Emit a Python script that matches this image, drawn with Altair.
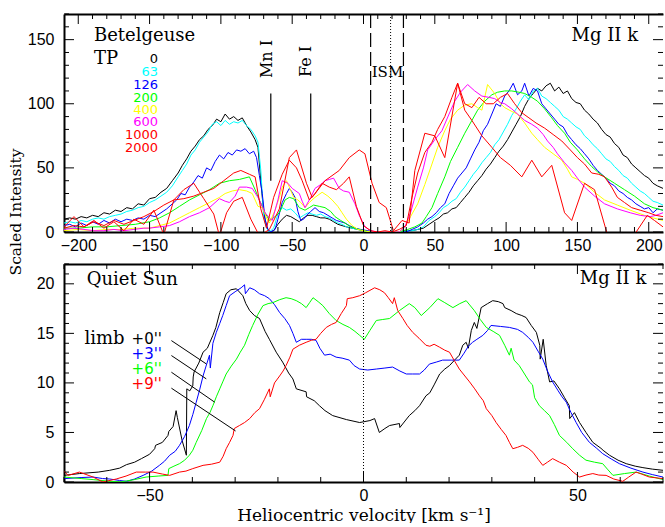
import altair as alt
import pandas as pd

# ---------------- Betelgeuse, Mg II k (top panel): (velocity, intensity) ----------------
bg_tp0 = [(-210,10),(-206,11),(-202,10),(-198,12),(-194,11),(-190,13),(-186,12),(-182,15),(-178,14),(-174,17),(-170,16),(-166,19),(-162,18),(-158,22),(-154,21),(-150,26),(-146,27),(-142,31),(-138,34),(-134,40),(-130,46),(-127,52),(-124,57),(-121,63),(-118,67),(-115,72),(-112,75),(-109,80),(-106,83),(-103,88),(-100,86),(-97,92),(-94,88),(-91,90),(-88,87),(-85,89),(-82,83),(-79,78),(-76,72),(-74,66),(-72,40),(-70,15),(-68,4),(-66,0),(-63,1),(-60,6),(-57,10),(-54,13),(-51,12),(-48,10),(-45,8),(-42,11),(-39,13),(-36,13),(-33,12),(-30,11),(-27,11),(-24,10),(-21,8),(-18,6),(-15,5),(-12,4),(-8,3),(-4,2),(0,1),(5,0),(10,0),(15,0),(20,0),(25,0),(30,1),(34,1),(38,2),(42,3),(46,6),(50,9),(53,11),(56,14),(59,15),(62,18),(65,19),(68,23),(71,27),(74,31),(77,36),(80,40),(83,44),(86,49),(89,53),(92,58),(95,63),(98,67),(101,72),(104,78),(107,84),(110,90),(113,98),(116,104),(119,108),(122,112),(125,110),(128,114),(131,116),(134,110),(137,113),(140,108),(143,110),(146,104),(149,101),(152,100),(155,95),(158,92),(161,88),(164,85),(167,80),(170,76),(173,74),(176,69),(179,66),(182,60),(185,58),(188,53),(191,50),(194,47),(197,44),(200,42),(203,38),(206,36),(210,34)]
bg_tp63 = [(-210,7),(-206,8),(-202,7),(-198,9),(-194,8),(-190,10),(-186,11),(-182,10),(-178,12),(-174,13),(-170,14),(-166,16),(-162,17),(-158,19),(-154,20),(-150,23),(-146,25),(-142,28),(-138,31),(-134,36),(-130,43),(-127,48),(-124,53),(-121,60),(-118,64),(-115,70),(-112,74),(-109,78),(-106,84),(-103,86),(-100,83),(-97,87),(-94,84),(-91,86),(-88,85),(-85,87),(-82,83),(-79,80),(-76,75),(-74,70),(-72,48),(-70,12),(-68,3),(-66,0),(-63,3),(-60,14),(-57,19),(-54,17),(-51,18),(-48,15),(-45,11),(-42,13),(-39,15),(-36,14),(-33,13),(-30,14),(-27,12),(-24,11),(-21,9),(-18,7),(-15,6),(-12,4),(-8,3),(-4,2),(0,1),(5,0),(15,0),(25,0),(30,1),(34,1),(38,2),(42,4),(46,9),(50,12),(53,15),(56,19),(59,21),(62,24),(65,26),(68,31),(71,35),(74,40),(77,45),(80,49),(83,54),(86,58),(89,62),(92,68),(95,72),(98,78),(101,84),(104,91),(107,96),(110,102),(113,107),(116,103),(119,110),(122,112),(125,106),(128,104),(131,101),(134,98),(137,95),(140,90),(143,88),(146,85),(149,82),(152,80),(155,75),(158,72),(161,68),(164,65),(167,61),(170,57),(173,55),(176,51),(179,48),(182,44),(185,42),(188,38),(191,35),(194,32),(197,30),(200,27),(203,24),(206,23),(210,21)]
bg_tp126 = [(-210,5),(-206,6),(-202,4),(-198,7),(-194,5),(-190,8),(-186,6),(-182,9),(-178,7),(-174,10),(-170,8),(-166,10),(-162,9),(-158,11),(-154,10),(-150,13),(-146,12),(-142,15),(-138,18),(-134,22),(-131,25),(-128,30),(-125,29),(-122,35),(-119,39),(-116,44),(-113,42),(-110,50),(-107,48),(-104,55),(-101,60),(-98,57),(-95,62),(-92,60),(-89,64),(-86,63),(-83,65),(-80,61),(-77,63),(-75,58),(-73,44),(-71,30),(-69,10),(-67,2),(-65,0),(-62,2),(-60,10),(-57,23),(-54,30),(-52,34),(-50,31),(-48,27),(-46,16),(-44,9),(-42,10),(-40,13),(-37,16),(-34,19),(-31,16),(-28,15),(-25,13),(-22,11),(-19,9),(-16,8),(-13,7),(-10,5),(-6,3),(-2,2),(3,1),(8,0),(20,0),(30,0),(34,2),(38,4),(42,7),(45,10),(48,12),(51,15),(54,19),(57,22),(60,30),(63,36),(66,42),(69,46),(72,50),(75,57),(78,64),(81,70),(84,79),(87,84),(90,92),(93,100),(96,98),(99,106),(102,110),(105,116),(108,107),(111,110),(113,116),(116,106),(119,112),(122,110),(125,100),(128,96),(131,92),(134,88),(137,84),(140,82),(143,76),(146,72),(149,68),(152,65),(155,61),(158,57),(161,52),(164,48),(167,45),(170,42),(173,38),(176,36),(179,32),(182,30),(185,27),(188,25),(191,22),(194,20),(197,18),(200,19),(203,15),(206,18),(210,17)]
bg_tp200 = [(-210,3),(-200,3),(-190,4),(-180,4),(-170,5),(-160,6),(-150,8),(-143,11),(-136,15),(-129,20),(-122,25),(-115,29),(-108,33),(-101,38),(-94,40),(-87,41),(-80,43),(-76,33),(-73,25),(-69,15),(-66,9),(-62,12),(-59,15),(-55,25),(-52,27),(-49,26),(-45,19),(-41,17),(-38,19),(-35,21),(-31,20),(-27,19),(-23,16),(-20,12),(-16,9),(-13,7),(-9,4),(-6,3),(0,1),(5,0),(15,0),(25,0),(31,2),(36,4),(41,7),(44,12),(48,19),(52,30),(57,43),(61,55),(66,66),(71,77),(76,87),(80,95),(85,102),(90,107),(94,109),(99,110),(104,110),(109,109),(113,108),(118,105),(122,102),(127,96),(132,89),(136,83),(141,77),(145,70),(150,64),(155,57),(160,51),(164,47),(169,43),(176,38),(183,33),(190,28),(197,22),(203,19),(210,17)]
bg_tp400 = [(-210,1),(-200,2),(-190,1),(-180,2),(-170,2),(-160,3),(-150,3),(-143,5),(-136,7),(-129,11),(-122,15),(-115,19),(-108,23),(-101,27),(-97,30),(-92,32),(-87,33),(-82,32),(-78,30),(-74,20),(-71,19),(-68,11),(-66,7),(-62,17),(-59,27),(-57,35),(-54,40),(-52,35),(-49,27),(-46,25),(-44,23),(-41,19),(-38,23),(-34,27),(-29,31),(-25,28),(-22,25),(-18,20),(-15,15),(-12,10),(-8,5),(-4,2),(0,1),(5,0),(25,0),(29,4),(33,12),(38,22),(43,37),(48,53),(52,66),(57,79),(61,88),(66,95),(71,99),(76,100),(80,97),(83,95),(87,115),(92,108),(96,100),(99,97),(104,94),(108,92),(113,85),(118,77),(122,72),(127,66),(133,61),(139,56),(143,49),(146,43),(150,41),(155,38),(162,31),(169,25),(178,21),(187,17),(197,13),(203,11),(210,9)]
bg_tp600 = [(-210,2),(-203,3),(-196,2),(-189,1),(-182,1),(-175,2),(-168,1),(-161,2),(-154,3),(-150,3),(-143,4),(-136,5),(-129,8),(-122,12),(-115,15),(-108,19),(-101,26),(-97,24),(-94,23),(-90,28),(-87,35),(-82,35),(-78,34),(-74,27),(-71,20),(-69,15),(-66,11),(-64,9),(-60,25),(-57,40),(-53,38),(-50,34),(-45,30),(-43,24),(-41,19),(-37,27),(-34,34),(-30,37),(-27,40),(-24,41),(-21,42),(-17,34),(-14,32),(-10,31),(-6,22),(-3,13),(1,4),(5,1),(10,0),(25,0),(29,4),(33,15),(38,35),(42,50),(45,64),(50,72),(55,79),(60,92),(64,102),(68,109),(73,115),(78,110),(83,106),(88,105),(92,104),(96,101),(99,100),(104,96),(108,92),(113,87),(118,84),(122,81),(126,76),(129,71),(133,66),(136,61),(141,54),(146,48),(150,42),(155,35),(162,28),(169,22),(178,18),(187,15),(194,13),(201,12),(205,13),(210,15)]
bg_tp1000 = [(-210,3),(-203,5),(-196,4),(-189,8),(-182,5),(-175,9),(-168,6),(-161,9),(-154,12),(-147,16),(-140,21),(-133,25),(-126,26),(-119,28),(-112,31),(-105,34),(-98,40),(-91,46),(-86,48),(-80,45),(-76,43),(-72,18),(-68,3),(-63,27),(-57,45),(-52,56),(-47,50),(-43,40),(-38,25),(-34,30),(-29,38),(-24,35),(-19,33),(-14,38),(-10,43),(-5,20),(0,5),(5,1),(10,0),(15,1),(20,0),(25,2),(30,5),(34,27),(38,46),(43,62),(48,70),(52,80),(57,90),(62,105),(66,116),(71,100),(76,97),(81,105),(86,100),(91,100),(96,105),(101,108),(106,100),(111,93),(116,89),(121,85),(127,81),(133,76),(139,71),(145,64),(150,58),(155,53),(160,46),(165,45),(169,43),(174,35),(178,27),(183,23),(188,19),(194,17),(200,15),(205,13),(210,12)]
bg_tp2000 = [(-210,4),(-203,12),(-196,4),(-189,9),(-182,3),(-175,8),(-168,1),(-161,10),(-154,6),(-147,17),(-140,-2),(-133,25),(-126,33),(-119,38),(-112,26),(-105,14),(-101,-3),(-96,15),(-91,24),(-85,27),(-79,10),(-73,-3),(-66,2),(-59,18),(-52,58),(-47,64),(-40,38),(-36,27),(-27,40),(-17,48),(-10,58),(-3,64),(1,61),(6,38),(11,23),(16,19),(21,1),(27,9),(32,7),(36,48),(43,77),(50,75),(57,58),(66,116),(71,95),(76,87),(83,75),(90,66),(96,58),(103,52),(111,43),(118,56),(125,43),(132,52),(141,15),(146,9),(155,38),(162,33),(171,-2),(180,-10),(190,-2),(199,13),(204,9),(210,4)]

bg_series = [
    (bg_tp0, "#000000"), (bg_tp63, "#00FFFF"), (bg_tp126, "#0000FF"), (bg_tp200, "#00FF00"),
    (bg_tp400, "#FFFF00"), (bg_tp600, "#FF00FF"), (bg_tp1000, "#FF0000"), (bg_tp2000, "#FF0000"),
]
tp_labels = ["0", "63", "126", "200", "400", "600", "1000", "2000"]
tp_colors = ["#000000", "#00FFFF", "#0000FF", "#00FF00", "#FFFF00", "#FF00FF", "#FF0000", "#FF0000"]
tp_label_y = [134.9, 124.9, 114.5, 104.7, 95.1, 85.4, 75.8, 65.7]

# ---------------- Quiet Sun, Mg II k (bottom panel) ----------------
qs_0 = [(-70,0.67),(-66.4,0.85),(-62,1.0),(-59.3,1.18),(-57,1.4),(-55.4,1.75),(-53.5,2.0),(-51.9,2.36),(-50,2.8),(-48.8,3.36),(-48.6,3.7),(-47,4.0),(-45.7,4.7),(-45.5,5.1),(-44.5,5.6),(-43.8,7.2),(-43.5,6.5),(-42.4,4.2),(-41.4,2.7),(-41.3,9.4),(-40.6,9.2),(-39.9,9.7),(-39.8,10.6),(-39.6,11.1),(-38.5,12.0),(-37.5,13.1),(-36.5,13.5),(-35.2,14.8),(-34.5,15.6),(-33.6,17.1),(-32.8,18.1),(-32.1,19.0),(-31,19.4),(-29.7,19.5),(-28.2,18.8),(-27.5,18.0),(-26.6,17.3),(-25.5,16.8),(-24.3,16.5),(-23,15.2),(-22,14.4),(-20.4,13.1),(-18.9,12.1),(-17.5,11.0),(-16.5,10.4),(-15.7,9.4),(-13.4,9.1),(-13.3,8.6),(-11.5,8.2),(-10.3,7.7),(-9,7.2),(-7.2,6.7),(-4,6.3),(-0.9,6.0),(1.5,6.2),(2.6,6.4),(3.7,5.0),(5,5.4),(6.1,5.7),(8.4,5.9),(8.5,5.5),(10.7,6.7),(12,7.2),(13.1,7.7),(14.6,8.7),(15.5,9.0),(16.5,9.8),(17.8,10.9),(19,11.4),(20.1,11.75),(21.5,12.4),(22.4,12.8),(23.2,13.8),(24.0,14.1),(24.5,13.5),(25.2,15.3),(25.9,16.1),(26.5,15.5),(27.5,17.6),(29,18.0),(30.2,18.3),(31.5,18.2),(32.6,18.0),(33,17.6),(34.5,17.3),(35.7,17.0),(37,16.8),(38.0,16.6),(39.2,15.8),(40.4,15.1),(41.2,13.8),(41.3,12.4),(42,14.4),(42.7,11.75),(43.5,10.1),(44.5,10.2),(45.8,9.4),(47,8.5),(48.1,7.7),(48.2,6.4),(49.3,7.0),(50.5,6.0),(52,5.0),(53.6,4.0),(55.5,3.4),(56,3.2),(57.5,2.7),(59.5,2.2),(61.4,1.85),(63.5,1.6),(65.3,1.45),(67.5,1.3),(70,1.18)]
qs_3 = [(-70,0.34),(-66,0.45),(-63.2,0.5),(-61,0.35),(-59.3,0.3),(-57,0.15),(-55.4,0.07),(-53.5,0.3),(-51.5,0.67),(-49.5,1.1),(-47.7,1.68),(-46.5,2.1),(-45.3,2.7),(-44,3.1),(-43,3.7),(-41.8,4.6),(-40.7,5.7),(-39.9,6.8),(-39.1,8.05),(-38.3,9.3),(-37.5,10.7),(-36.8,11.7),(-36,12.8),(-35.8,11.5),(-35.2,14.0),(-34.4,15.1),(-33.6,16.0),(-32.9,16.8),(-32.1,17.8),(-31.3,18.8),(-30,19.2),(-28.6,19.6),(-27.8,19.9),(-27.6,19.0),(-26.6,19.6),(-25.5,19.4),(-24.3,19.0),(-23.1,18.8),(-22,18.5),(-20.8,17.9),(-19.6,17.1),(-18.4,16.5),(-17.3,15.8),(-16.5,15.0),(-15.7,14.1),(-14.5,14.4),(-13.4,14.4),(-12.2,14.4),(-11.1,14.3),(-10.2,13.5),(-9.1,12.8),(-7.8,12.9),(-6.4,12.6),(-5,12.5),(-3.3,12.3),(-2.2,11.75),(-0.9,11.4),(1,11.3),(3.0,11.4),(5,11.5),(6.8,11.6),(8.5,11.2),(10.0,10.9),(11.5,10.9),(13.1,10.9),(14.2,11.3),(15.4,11.9),(17,12.1),(18.5,12.3),(20.5,12.3),(22.4,12.3),(23.5,13.0),(24.5,13.7),(25.5,14.1),(26.5,14.4),(27.9,14.8),(29,15.3),(29.8,15.8),(32,15.7),(34.1,15.6),(36,15.4),(37.2,15.1),(38.5,14.6),(39.6,14.1),(40.8,13.2),(41.9,12.4),(43,11.2),(44.2,10.1),(45.5,9.2),(46.4,8.6),(47.4,8.05),(48.5,7.0),(49.7,6.0),(51,5.0),(52.8,4.0),(54.5,3.4),(55.9,2.86),(58,2.3),(59.8,1.85),(62.5,1.4),(65.3,1.0),(67.5,0.75),(70,0.5)]
qs_6 = [(-70,0.5),(-66,0.35),(-63.2,0.24),(-60,0.1),(-56.9,0.0),(-54,0.2),(-50.8,0.5),(-48,0.6),(-45.7,0.67),(-45.5,1.35),(-44.3,1.6),(-43,1.85),(-41.8,2.2),(-40.7,2.7),(-39.9,3.2),(-39.1,4.0),(-37.8,5.2),(-36.7,6.4),(-35.9,7.0),(-35.2,7.7),(-34.4,8.6),(-33.6,9.4),(-32.9,10.1),(-32.1,10.9),(-30.9,11.7),(-29.7,12.4),(-28.8,13.1),(-27.8,13.8),(-26.8,14.9),(-25.9,15.8),(-24.7,16.9),(-23.5,17.8),(-22.3,18.0),(-21.2,18.1),(-19.6,18.4),(-18.1,18.6),(-16.9,18.5),(-15.7,18.3),(-14.5,18.0),(-13.4,17.6),(-12.6,18.1),(-11.8,18.6),(-10.6,18.2),(-9.5,17.8),(-8,17.0),(-6.4,16.3),(-4.8,15.9),(-3.3,15.6),(-2,15.2),(-0.9,14.8),(0.2,14.4),(1.5,15.3),(3.0,16.3),(4.5,16.4),(6.1,16.5),(8.4,17.3),(10.7,18.0),(12,17.6),(13.5,16.8),(15.5,17.6),(17.4,18.5),(19,18.1),(20.9,17.6),(22.5,18.0),(24.0,18.3),(25.9,17.3),(27.3,16.4),(28.7,15.6),(30.3,15.2),(31.8,14.8),(33,13.8),(34.1,12.8),(34.5,13.5),(35.2,12.3),(36.4,11.75),(37.5,11.0),(38.8,10.1),(39.5,9.8),(40,8.5),(41.1,7.7),(42.3,7.2),(43.5,6.7),(44.6,5.8),(45.8,4.7),(47.5,4.0),(48.9,3.36),(50.5,2.7),(52.0,2.2),(54,2.0),(55.9,1.85),(57,1.3),(58.3,0.67),(61,0.85),(63.7,1.0),(66.8,0.6),(70,0.24)]
qs_9 = [(-70,1.08),(-69.0,0.67),(-66.4,1.0),(-63.2,0.5),(-60.9,0.0),(-57.8,0.3),(-55.5,0.6),(-53.1,1.0),(-51,1.0),(-49.2,1.0),(-47,0.8),(-45.3,0.67),(-43,1.0),(-41.5,1.1),(-39.9,1.35),(-37.5,1.68),(-35.5,1.8),(-33.6,2.0),(-32.8,2.6),(-32.1,3.36),(-31.3,4.0),(-30.5,4.7),(-30.2,5.4),(-29.0,5.7),(-27.8,6.0),(-26.6,6.4),(-25.4,7.0),(-24.3,7.4),(-23.2,8.3),(-22,9.4),(-21.8,8.6),(-20.8,10.0),(-19.6,10.7),(-18.8,11.2),(-18.1,11.75),(-17.2,12.6),(-16.5,13.4),(-15,13.8),(-13.4,14.1),(-12.2,14.3),(-11.1,14.4),(-10,15.0),(-8.7,15.6),(-7.5,15.9),(-6.4,16.1),(-5.2,17.0),(-4.0,17.8),(-3.8,18.5),(-2.5,18.6),(-0.9,18.8),(0.5,19.1),(2.6,19.6),(3.8,19.4),(4.9,19.1),(5.8,18.6),(6.8,18.0),(7.2,18.6),(8,17.3),(9.2,16.5),(10.2,15.8),(11.5,15.1),(13,14.5),(14.6,13.8),(15.5,13.7),(16.5,13.9),(17.8,13.6),(19,13.3),(20.1,13.1),(21.3,12.2),(22.4,11.4),(23.5,10.8),(24.8,10.1),(26,9.4),(27.1,8.7),(28,8.2),(28.7,7.4),(30,6.7),(31.0,6.0),(32.2,5.3),(33.3,4.7),(34.1,4.0),(34.9,3.36),(36,3.5),(37.2,3.7),(38.5,3.4),(39.6,3.0),(40.8,2.3),(41.9,1.68),(43,2.0),(44.2,2.36),(45.8,2.0),(47.4,1.68),(49,1.0),(50.5,0.5),(52,0.7),(53.6,0.85),(55,0.7),(56.7,0.67),(58.5,0.3),(60.6,0.07),(62,0.5),(63.7,1.0),(65,0.8),(66.8,0.5),(70,0.34)]

qs_series = [(qs_0, "#000000"), (qs_3, "#0000FF"), (qs_6, "#00FF00"), (qs_9, "#FF0000")]
limb_labels = ["+0''", "+3''", "+6''", "+9''"]
limb_colors = ["#000000", "#0000FF", "#00FF00", "#FF0000"]
limb_label_y = [14.47, 12.96, 11.45, 9.94]
# pointer segments from labels to curves: (v1, I1, v2, I2)
pointer_segs = [(-44.9, 14.27, -36.75, 11.92), (-44.9, 12.76, -36.75, 10.41),
                (-44.9, 11.08, -34.8, 8.06), (-44.9, 9.47, -29.9, 5.15)]

# annotation line positions
line_ids = [("Mn I", -65.0, -67.8, 134.9), ("Fe I", -37.0, -40.6, 133.0)]   # label, line v, text v, text I
line_span = (40, 108)
ism_dashed = [5.0, 28.0]
ism_dotted = [19.0]
qs_dotted = [0.0]

# axis ranges and ticks
bg_xdom, bg_ydom = [-210, 210], [0, 170]
qs_xdom, qs_ydom = [-70, 70], [0, 22]
bg_xmajor = [-200, -150, -100, -50, 0, 50, 100, 150, 200]
bg_xminor = [t for t in range(-200, 201, 10) if t % 50 != 0]
bg_ymajor = [0, 50, 100, 150]
bg_yminor = [t for t in range(0, 171, 10) if t % 50 != 0]
qs_xmajor = [-50, 0, 50]
qs_xminor = [t for t in range(-70, 71, 10) if t % 50 != 0]
qs_ymajor = [0, 5, 10, 15, 20]
qs_yminor = [t for t in range(0, 23) if t % 5 != 0]

W, H = 599, 218
SERIF = "DejaVu Serif"
SANS = "DejaVu Sans"
TICKFONT = "Liberation Sans"
MAJOR, MINOR = 10, 5


def df_of(pairs):
    return pd.DataFrame({"v": [p[0] for p in pairs], "I": [p[1] for p in pairs],
                         "i": list(range(len(pairs)))})


def frame_layers(xs, ys, xdom, ydom, xmajor, ymajor, xtitle):
    """Invisible layers carrying the labelled axes and the frame lines."""
    corners = pd.DataFrame({"v": xdom, "I": ydom})
    ax1 = alt.Axis(orient="bottom", values=xmajor, ticks=False, tickSize=0, domain=True,
                   domainWidth=2, domainColor="black", labelPadding=5, labelFlush=False,
                   labelOverlap=False, title=xtitle, titlePadding=4, grid=False, format="d")
    ay1 = alt.Axis(orient="left", values=ymajor, ticks=False, tickSize=0, domain=True,
                   domainWidth=2, domainColor="black", labelPadding=10, labelFlush=False,
                   labelOverlap=False, title=None, grid=False, format="d")
    ax2 = alt.Axis(orient="bottom", offset=-H, values=xmajor, labels=False, ticks=False, tickSize=0,
                   domain=True, domainWidth=2, domainColor="black", title=None, grid=False)
    out = [
        alt.Chart(corners).mark_point(opacity=0, size=1).encode(
            x=alt.X("v:Q", scale=xs, axis=ax1), y=alt.Y("I:Q", scale=ys, axis=ay1)),
        alt.Chart(corners).mark_point(opacity=0, size=1).encode(
            x=alt.X("v:Q", scale=xs, axis=ax2), y=alt.Y("I:Q", scale=ys, axis=None)),
    ]
    return out


def tick_layers(xs, ys, xmajor, xminor, ymajor, yminor):
    """Inward ticks on all four edges, positioned by the scales."""
    out = []
    for vals, size in ((xmajor, MAJOR), (xminor, MINOR)):
        d = pd.DataFrame({"t": vals})
        out.append(alt.Chart(d).mark_rule(color="black", strokeWidth=1).encode(
            x=alt.X("t:Q", scale=xs, axis=None), y=alt.value(H), y2=alt.value(H - size)))
        out.append(alt.Chart(d).mark_rule(color="black", strokeWidth=1).encode(
            x=alt.X("t:Q", scale=xs, axis=None), y=alt.value(0), y2=alt.value(size)))
    for vals, size in ((ymajor, MAJOR), (yminor, MINOR)):
        d = pd.DataFrame({"t": vals})
        out.append(alt.Chart(d).mark_rule(color="black", strokeWidth=1).encode(
            y=alt.Y("t:Q", scale=ys, axis=None), x=alt.value(0), x2=alt.value(size)))
        out.append(alt.Chart(d).mark_rule(color="black", strokeWidth=1).encode(
            y=alt.Y("t:Q", scale=ys, axis=None), x=alt.value(W), x2=alt.value(W - size)))
    return out


def panel(series, xdom, ydom, xmajor, xminor, ymajor, yminor, xtitle, extra):
    xs = alt.Scale(domain=xdom, nice=False, zero=False)
    ys = alt.Scale(domain=ydom, nice=False, zero=False)
    layers = frame_layers(xs, ys, xdom, ydom, xmajor, ymajor, xtitle)
    for pairs, color in series:
        layers.append(
            alt.Chart(df_of(pairs)).mark_line(color=color, strokeWidth=1, clip=True).encode(
                x=alt.X("v:Q", scale=xs, axis=None),
                y=alt.Y("I:Q", scale=ys, axis=None),
                order="i:Q",
            )
        )
    layers += extra(xs, ys)
    layers += tick_layers(xs, ys, xmajor, xminor, ymajor, yminor)
    return alt.layer(*layers).properties(width=W, height=H).resolve_axis(x="independent", y="independent")


def text_layer(df, xs, ys, font, size, align="left", angle=0, colorcol=False):
    enc = dict(x=alt.X("v:Q", scale=xs, axis=None), y=alt.Y("I:Q", scale=ys, axis=None), text="t:N")
    if colorcol:
        enc["color"] = alt.Color("c:N", scale=None, legend=None)
    kw = dict(font=font, fontSize=size, align=align, baseline="middle")
    if angle:
        kw["angle"] = angle
    if not colorcol:
        kw["color"] = "black"
    return alt.Chart(df).mark_text(**kw).encode(**enc)


def bg_extra(xs, ys):
    out = []
    out.append(text_layer(pd.DataFrame({"v": [-189, -189], "I": [152.7, 134.9], "t": ["Betelgeuse", "TP"]}),
                          xs, ys, SERIF, 18))
    out.append(text_layer(pd.DataFrame({"v": [192.5], "I": [152.7], "t": ["Mg  II  k"]}),
                          xs, ys, SERIF, 18, align="right"))
    out.append(text_layer(pd.DataFrame({"v": [-144] * len(tp_labels), "I": tp_label_y,
                                        "t": tp_labels, "c": tp_colors}),
                          xs, ys, SANS, 13, align="right", colorcol=True))
    out.append(text_layer(pd.DataFrame({"v": [l[2] for l in line_ids], "I": [l[3] for l in line_ids],
                                        "t": [l[0] for l in line_ids]}),
                          xs, ys, SERIF, 16, align="center", angle=270))
    out.append(text_layer(pd.DataFrame({"v": [16.8], "I": [124.4], "t": ["ISM"]}),
                          xs, ys, SERIF, 15, align="center"))
    out.append(alt.Chart(pd.DataFrame({"v": [l[1] for l in line_ids], "a": [line_span[0]] * 2,
                                       "b": [line_span[1]] * 2})).mark_rule(color="black", strokeWidth=1.2).encode(
        x=alt.X("v:Q", scale=xs, axis=None), y=alt.Y("a:Q", scale=ys, axis=None), y2="b:Q"))
    out.append(alt.Chart(pd.DataFrame({"v": ism_dashed})).mark_rule(color="black", strokeWidth=1.2,
                                                                   strokeDash=[14, 5]).encode(
        x=alt.X("v:Q", scale=xs, axis=None), y=alt.value(0), y2=alt.value(H)))
    out.append(alt.Chart(pd.DataFrame({"v": ism_dotted})).mark_rule(color="black", strokeWidth=1,
                                                                   strokeDash=[1, 2]).encode(
        x=alt.X("v:Q", scale=xs, axis=None), y=alt.value(0), y2=alt.value(H)))
    out.append(alt.Chart(pd.DataFrame({"t": ["Scaled  Intensity"]})).mark_text(
        font=SERIF, fontSize=15.5, angle=270, align="center", baseline="middle", color="black").encode(
        x=alt.value(-48), y=alt.value(198), text="t:N"))
    return out


def qs_extra(xs, ys):
    out = []
    out.append(text_layer(pd.DataFrame({"v": [-64.7, -65.2], "I": [20.4, 14.47], "t": ["Quiet Sun", "limb"]}),
                          xs, ys, SERIF, 18))
    out.append(text_layer(pd.DataFrame({"v": [66.1], "I": [20.5], "t": ["Mg  II  k"]}),
                          xs, ys, SERIF, 18, align="right"))
    out.append(text_layer(pd.DataFrame({"v": [-54.2] * 4, "I": limb_label_y, "t": limb_labels, "c": limb_colors}),
                          xs, ys, SANS, 15, colorcol=True))
    seg = pd.DataFrame(pointer_segs, columns=["v1", "i1", "v2", "i2"])
    out.append(alt.Chart(seg).mark_rule(color="black", strokeWidth=1).encode(
        x=alt.X("v1:Q", scale=xs, axis=None), y=alt.Y("i1:Q", scale=ys, axis=None), x2="v2:Q", y2="i2:Q"))
    out.append(alt.Chart(pd.DataFrame({"v": qs_dotted})).mark_rule(color="black", strokeWidth=1,
                                                                  strokeDash=[1, 2]).encode(
        x=alt.X("v:Q", scale=xs, axis=None), y=alt.value(0), y2=alt.value(H)))
    return out


top = panel(bg_series, bg_xdom, bg_ydom, bg_xmajor, bg_xminor, bg_ymajor, bg_yminor, None, bg_extra)
bottom = panel(qs_series, qs_xdom, qs_ydom, qs_xmajor, qs_xminor, qs_ymajor, qs_yminor,
               "Heliocentric velocity [km s\u207b\u00b9]", qs_extra)

chart = alt.vconcat(top, bottom, spacing=32, bounds="flush").properties(
    padding={"left": 9, "top": 13, "right": 0, "bottom": 0}
).configure_view(stroke=None).configure_axis(
    labelFont=TICKFONT, labelFontSize=16, labelColor="black",
    titleFont=SERIF, titleFontSize=17, titleFontWeight="normal", titleColor="black",
)

chart.save("out.html", embed_options={"renderer": "svg", "actions": False})
